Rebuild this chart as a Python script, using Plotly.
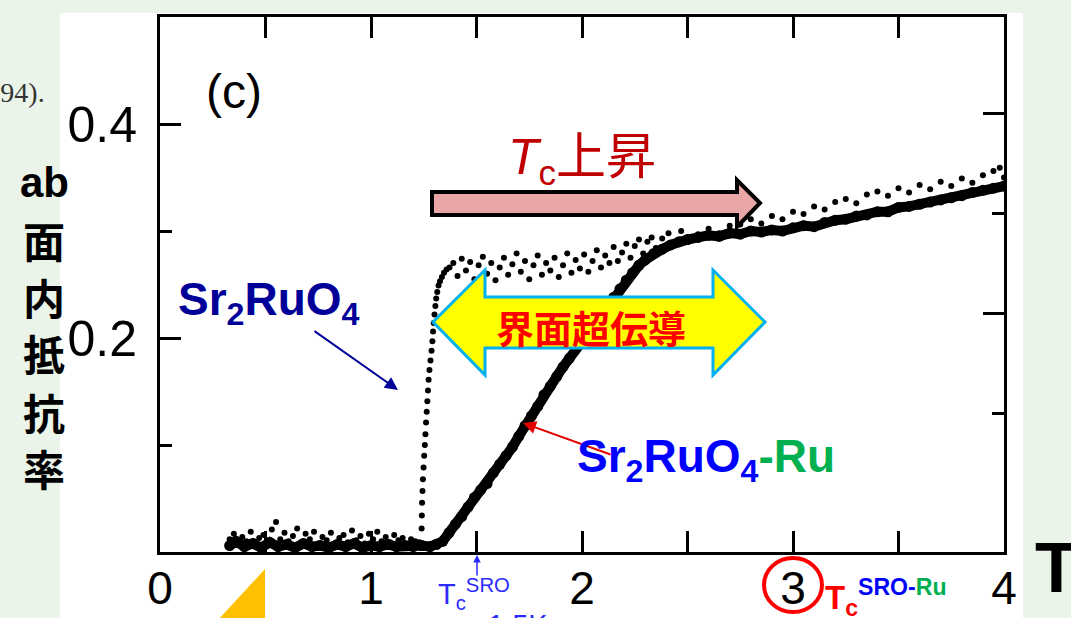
import plotly.graph_objects as go

# ---- data: in-plane resistivity vs temperature ----
# Sr2RuO4 (pure crystal)
sro_T = [0.33, 0.35, 0.37, 0.39, 0.41, 0.43, 0.45, 0.47, 0.49, 0.51, 0.53, 0.55, 0.57, 0.59,
         0.61, 0.63, 0.65, 0.67, 0.69, 0.71, 0.73, 0.75, 0.77, 0.79, 0.81, 0.83, 0.85, 0.87,
         0.89, 0.91, 0.93, 0.95, 0.97, 0.99, 1.01, 1.03, 1.05, 1.07, 1.09, 1.11, 1.13, 1.15,
         1.17, 1.19, 1.21, 1.23,
         1.240, 1.241, 1.242, 1.244, 1.246, 1.249, 1.252, 1.255, 1.258, 1.261, 1.264, 1.267,
         1.270, 1.273, 1.277, 1.282, 1.287, 1.291, 1.294, 1.297, 1.301, 1.305, 1.309, 1.314,
         1.320, 1.327, 1.336, 1.346, 1.358, 1.372,
         1.39, 1.41, 1.43, 1.45, 1.47, 1.49, 1.51, 1.53, 1.55, 1.57, 1.59, 1.61, 1.63, 1.65,
         1.67, 1.69, 1.71, 1.73, 1.75, 1.77, 1.79, 1.81, 1.83, 1.85, 1.87, 1.89, 1.91, 1.93,
         1.95, 1.97, 1.99, 2.01, 2.03, 2.05, 2.07, 2.09, 2.11, 2.13, 2.15, 2.17, 2.19, 2.21,
         2.23, 2.25, 2.27, 2.29, 2.31, 2.33, 2.35, 2.38, 2.41, 2.44, 2.47, 2.50,
         2.55, 2.60, 2.65, 2.70, 2.75, 2.80, 2.85, 2.90, 2.95, 3.00, 3.05, 3.10, 3.15, 3.20,
         3.25, 3.30, 3.35, 3.40, 3.45, 3.50, 3.55, 3.60, 3.65, 3.70, 3.75, 3.80, 3.85, 3.90,
         3.95, 3.98, 4.00]
sro_rho = [0.012, 0.017, 0.008, 0.014, 0.010, 0.019, 0.007, 0.013, 0.016, 0.009, 0.021, 0.028,
           0.012, 0.018, 0.010, 0.015, 0.022, 0.009, 0.017, 0.012, 0.019, 0.008, 0.014, 0.011,
           0.018, 0.007, 0.013, 0.016, 0.009, 0.020, 0.011, 0.015, 0.008, 0.017, 0.012, 0.019,
           0.010, 0.014, 0.009, 0.016, 0.011, 0.013, 0.008, 0.012, 0.010, 0.009,
           0.022, 0.034, 0.046, 0.057, 0.068, 0.079, 0.090, 0.100, 0.110, 0.121, 0.131, 0.141,
           0.151, 0.161, 0.170, 0.179, 0.188, 0.197, 0.206, 0.214, 0.222, 0.230, 0.237, 0.243,
           0.249, 0.253, 0.257, 0.261, 0.264, 0.266,
           0.270, 0.258, 0.274, 0.263, 0.271, 0.255, 0.268, 0.276, 0.260, 0.270, 0.254, 0.266,
           0.275, 0.259, 0.269, 0.279, 0.262, 0.272, 0.255, 0.268, 0.277, 0.259, 0.270, 0.263,
           0.275, 0.257, 0.268, 0.279, 0.261, 0.273, 0.265, 0.278, 0.262, 0.272, 0.282, 0.266,
           0.277, 0.270, 0.285, 0.272, 0.280, 0.288, 0.275, 0.286, 0.292, 0.279, 0.290, 0.294,
           0.284, 0.293, 0.298, 0.289, 0.300, 0.294,
           0.297, 0.302, 0.298, 0.305, 0.306, 0.311, 0.307, 0.314, 0.311, 0.318, 0.316, 0.323,
           0.320, 0.327, 0.330, 0.326, 0.334, 0.337, 0.333, 0.340, 0.336, 0.343, 0.339, 0.346,
           0.342, 0.349, 0.345, 0.352, 0.356, 0.359, 0.350]

# Sr2RuO4-Ru eutectic crystal
ru_T = [0.33, 0.36, 0.40, 0.44, 0.48, 0.52, 0.56, 0.60, 0.64, 0.68, 0.72, 0.76, 0.80, 0.84,
        0.88, 0.92, 0.96, 1.00, 1.04, 1.08, 1.12, 1.16, 1.20, 1.24, 1.28, 1.31, 1.34, 1.37,
        1.40, 1.43, 1.46, 1.49, 1.52, 1.55, 1.58, 1.61, 1.64, 1.67, 1.70, 1.73, 1.76, 1.79,
        1.82, 1.85, 1.88, 1.91, 1.94, 1.97, 2.00, 2.03, 2.06, 2.09, 2.12, 2.15, 2.18, 2.21,
        2.24, 2.27, 2.30, 2.34, 2.38, 2.42, 2.46, 2.50, 2.55, 2.60, 2.65, 2.70, 2.75, 2.80,
        2.85, 2.90, 2.95, 3.00, 3.05, 3.10, 3.15, 3.20, 3.25, 3.30, 3.35, 3.40, 3.45, 3.50,
        3.55, 3.60, 3.65, 3.70, 3.75, 3.80, 3.85, 3.90, 3.95, 4.00]
ru_rho = [0.006, 0.010, 0.005, 0.008, 0.004, 0.009, 0.005, 0.007, 0.004, 0.008, 0.005, 0.006,
          0.004, 0.007, 0.005, 0.008, 0.004, 0.006, 0.005, 0.007, 0.005, 0.006, 0.005, 0.006,
          0.005, 0.007, 0.010, 0.018, 0.026, 0.033, 0.042, 0.051, 0.058, 0.064, 0.074, 0.082,
          0.090, 0.098, 0.108, 0.118, 0.127, 0.136, 0.147, 0.155, 0.164, 0.173, 0.181, 0.191,
          0.198, 0.207, 0.215, 0.222, 0.230, 0.238, 0.246, 0.254, 0.261, 0.268, 0.273, 0.279,
          0.283, 0.287, 0.290, 0.292, 0.294, 0.296, 0.295, 0.298, 0.297, 0.300, 0.299, 0.301,
          0.300, 0.303, 0.305, 0.304, 0.308, 0.310, 0.311, 0.314, 0.315, 0.318, 0.318, 0.322,
          0.323, 0.325, 0.327, 0.329, 0.331, 0.333, 0.336, 0.338, 0.340, 0.342]

x_tick_vals = [0, 1, 2, 3, 4]
x_tick_text = ["0", "1", "2", "3", "4"]
y_tick_vals = [0.2, 0.4]
y_tick_text = ["0.2", "0.4"]
y_title_chars = ["ab", "面", "内", "抵", "抗", "率"]

# ---- page geometry (pixels) ----
W, H = 1071, 618
L, R, T, B = 160, 1004, 17, 552


def px(x):
    return (x - L) / (R - L)


def py(y):
    return (B - y) / (B - T)


def label(x, y, text, font, xa="center", ya="middle"):
    return dict(xref="paper", yref="paper", x=px(x), y=py(y), text=text,
                showarrow=False, xanchor=xa, yanchor=ya, font=font)


def arrow(hx, hy, tx, ty, color, width, size):
    return dict(xref="paper", yref="paper", x=px(hx), y=py(hy), ax=tx - hx, ay=ty - hy,
                axref="pixel", ayref="pixel", text="", showarrow=True, arrowhead=2,
                arrowsize=size, arrowwidth=width, arrowcolor=color)


fig = go.Figure()

fig.add_trace(go.Scatter(
    x=ru_T, y=ru_rho, mode="lines+markers",
    line=dict(color="black", width=10),
    marker=dict(color="black", size=11),
    showlegend=False, hoverinfo="skip"))

fig.add_trace(go.Scatter(
    x=sro_T, y=sro_rho, mode="markers",
    marker=dict(color="black", size=6),
    showlegend=False, hoverinfo="skip"))

# right-hand frame ticks sit on their own scale
fig.add_trace(go.Scatter(x=[None], y=[None], yaxis="y2", showlegend=False, hoverinfo="skip"))

shapes = []
# white slide panel
shapes.append(dict(type="rect", xref="paper", yref="paper", layer="below",
                   x0=px(60), x1=px(1023), y0=py(700), y1=py(13),
                   fillcolor="white", line=dict(width=0)))
# orange triangle at lower left
shapes.append(dict(type="path", xref="paper", yref="paper",
                   path=f"M {px(265)},{py(569)} L {px(265)},{py(660)} L {px(181)},{py(660)} Z",
                   fillcolor="#FFC000", line=dict(width=0)))
# Tc rise arrow
pink = [(432, 192), (737, 192), (737, 180), (760, 203), (737, 227), (737, 215), (432, 215)]
shapes.append(dict(type="path", xref="paper", yref="paper",
                   path="M " + " L ".join(f"{px(a)},{py(b)}" for a, b in pink) + " Z",
                   fillcolor="#E8A6A6", line=dict(color="black", width=4)))
# interface superconductivity double arrow
dbl = [(433, 322), (485, 270), (485, 297), (713, 297), (713, 270), (765, 322),
       (713, 375), (713, 348), (485, 348), (485, 375)]
shapes.append(dict(type="path", xref="paper", yref="paper",
                   path="M " + " L ".join(f"{px(a)},{py(b)}" for a, b in dbl) + " Z",
                   fillcolor="#FFFF00", line=dict(color="#00B0F0", width=3)))
# circle around 3 K
shapes.append(dict(type="circle", xref="paper", yref="paper",
                   x0=px(764), x1=px(822), y0=py(612), y1=py(558),
                   line=dict(color="#FF0000", width=4)))

sans = "Liberation Sans, Arial, sans-serif"
cjk = "Noto Sans CJK JP, sans-serif"

ann = []
ann.append(arrow(398, 390, 313, 330, "#000099", 2, 1.3))
ann.append(arrow(523, 423, 612, 455, "#E00000", 2, 1.3))
ann.append(arrow(477, 555, 477, 577, "#2B2BFF", 1.5, 1))

ann.append(label(234, 91, "(c)", dict(family=sans, size=48, color="black")))
ann.append(label(582, 160, "<i>T</i><sub>c</sub>上昇",
                 dict(family=sans + ", Noto Sans CJK JP", size=50, color="#C00000")))
ann.append(label(591, 326, "<b>界面超伝導</b>", dict(family=cjk, size=38, color="#FF0000")))
ann.append(label(176, 302, "<b>Sr<sub>2</sub>RuO<sub>4</sub></b>",
                 dict(family=sans, size=46, color="#000099"), xa="left"))
ann.append(label(575, 459,
                 "<b>Sr<sub>2</sub>RuO<sub>4</sub><span style='color:#00B050'>-Ru</span></b>",
                 dict(family=sans, size=46, color="#0000FF"), xa="left"))
ann.append(label(436, 594, "T<sub>c</sub><sup>SRO</sup>",
                 dict(family=sans, size=29, color="#2B2BFF"), xa="left"))
ann.append(label(518, 607, "1.5K", dict(family=sans, size=29, color="#2B2BFF"), ya="top"))
ann.append(label(823, 597,
                 "<b>T<sub>c</sub><sup><span style='color:#0000FF'>SRO-</span>"
                 "<span style='color:#00B050'>Ru</span></sup></b>",
                 dict(family=sans, size=33, color="#FF0000"), xa="left"))
ann.append(label(1033, 527, "<b>T</b>", dict(family=sans, size=70, color="black"),
                 xa="left", ya="top"))
ann.append(label(47, 92, "(1994).",
                 dict(family="Liberation Serif, Times New Roman, serif", size=28,
                      color="#333333"), xa="right"))
# vertical axis title, one glyph per line
title_y = [182, 239, 296, 352, 411, 467]
for ch, yy in zip(y_title_chars, title_y):
    fam = sans if ch == "ab" else cjk
    ann.append(label(44, yy, f"<b>{ch}</b>", dict(family=fam, size=42, color="black")))

fig.update_layout(
    width=W, height=H,
    margin=dict(l=L, r=W - R, t=T, b=H - B, pad=0, autoexpand=False),
    paper_bgcolor="#EAF4E8", plot_bgcolor="white",
    shapes=shapes, annotations=ann,
    xaxis=dict(range=[0, 4], tickmode="array", tickvals=x_tick_vals, ticktext=x_tick_text,
               ticks="inside", ticklen=21, tickwidth=3, tickcolor="black",
               minor=dict(tickvals=[0.5, 1.5, 2.5, 3.5], ticks="inside", ticklen=10,
                          tickwidth=3, tickcolor="black"),
               showline=True, linewidth=3, linecolor="black", mirror="allticks",
               showgrid=False, zeroline=False, ticklabelstandoff=-6, automargin=False,
               tickfont=dict(family=sans, size=46, color="black")),
    yaxis=dict(range=[0, 0.5], tickmode="array", tickvals=y_tick_vals, ticktext=y_tick_text,
               ticks="inside", ticklen=21, tickwidth=3, tickcolor="black",
               minor=dict(tickvals=[0.1, 0.3], ticks="inside", ticklen=12,
                          tickwidth=3, tickcolor="black"),
               showline=True, linewidth=3, linecolor="black", mirror=True,
               showgrid=False, zeroline=False, ticklabelstandoff=10, automargin=False,
               tickfont=dict(family=sans, size=50, color="black")),
    yaxis2=dict(overlaying="y", side="right", range=[-0.039, 0.496],
                tickmode="array", tickvals=[0.2, 0.4], showticklabels=False,
                ticks="inside", ticklen=21, tickwidth=3, tickcolor="black",
                minor=dict(tickvals=[0.1, 0.3], ticks="inside", ticklen=12,
                           tickwidth=3, tickcolor="black"),
                showgrid=False, zeroline=False, showline=False, automargin=False),
)

fig.write_html("out.html")
